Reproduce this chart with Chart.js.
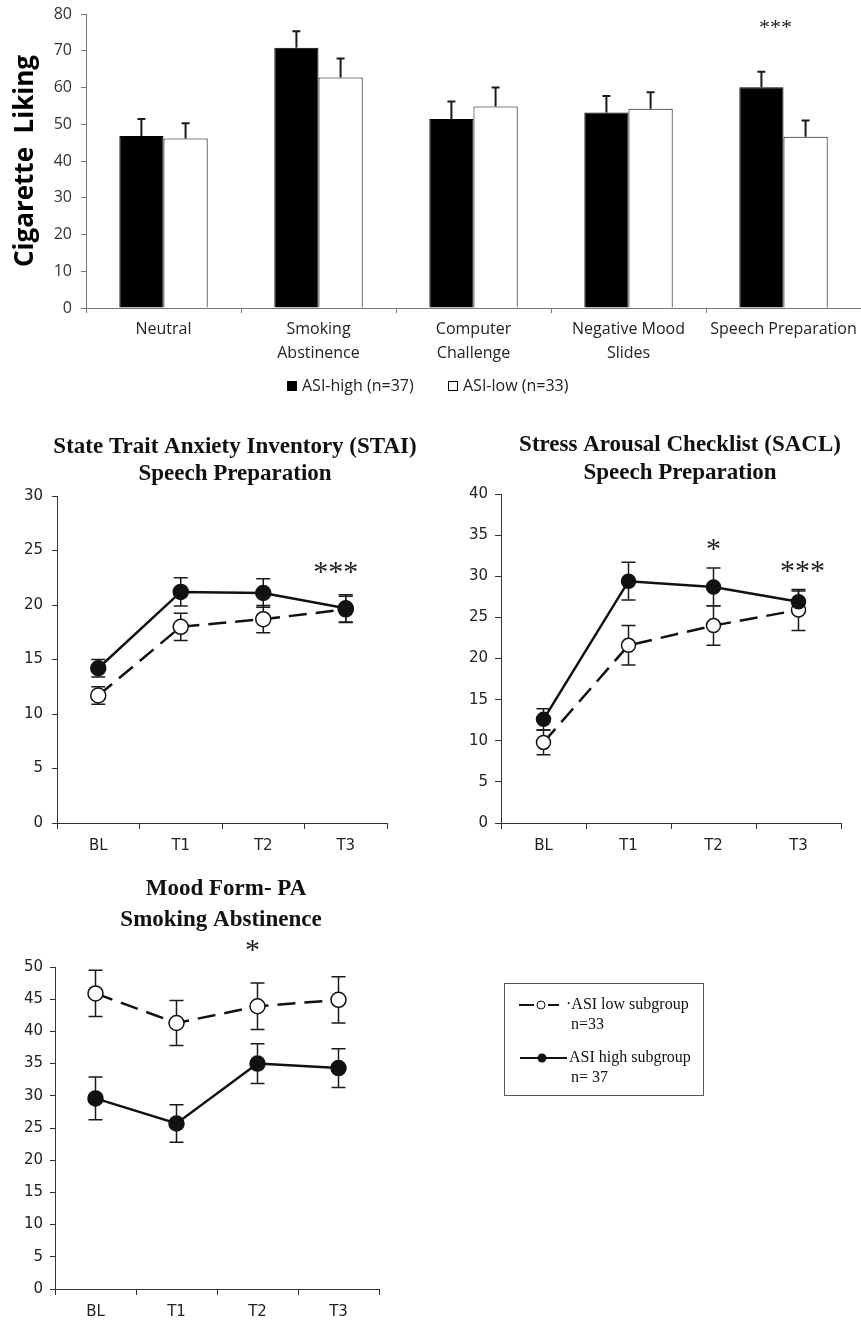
<!DOCTYPE html>
<html><head><meta charset="utf-8">
<script src="https://cdn.jsdelivr.net/npm/chart.js@4.4.1/dist/chart.umd.min.js"></script>
<style>
html,body{margin:0;padding:0;background:#fff;}
#wrap{position:relative;width:861px;height:1323px;overflow:hidden;background:#fff;}
canvas{position:absolute;}
</style></head><body>
<div id="wrap">
<canvas id="bar" width="861" height="410" style="left:0;top:0"></canvas>
<canvas id="stai" width="430" height="480" style="left:0;top:380px"></canvas>
<canvas id="sacl" width="431" height="480" style="left:430px;top:380px"></canvas>
<canvas id="mood" width="861" height="473" style="left:0;top:850px"></canvas>
</div>
<script>
// ---------- DATA ----------
const barCategories = [['Neutral'], ['Smoking', 'Abstinence'], ['Computer', 'Challenge'], ['Negative Mood', 'Slides'], ['Speech Preparation']];
const likingHigh = [46.8, 70.8, 51.4, 53.2, 60.1];
const likingHighErr = [4.6, 4.5, 4.8, 4.5, 4.2];
const likingLow = [46.1, 62.7, 54.8, 54.2, 46.6];
const likingLowErr = [4.2, 5.2, 5.2, 4.5, 4.4];
const barLegendLabels = ['ASI-high (n=37)', 'ASI-low (n=33)'];
const barYTicks = [0, 10, 20, 30, 40, 50, 60, 70, 80];

const timePoints = ['BL', 'T1', 'T2', 'T3'];

const staiHigh = [14.2, 21.2, 21.1, 19.7];
const staiHighErr = [0.8, 1.3, 1.3, 1.25];
const staiLow = [11.7, 18.0, 18.7, 19.6];
const staiLowErr = [0.8, 1.25, 1.25, 1.2];

const saclHigh = [12.6, 29.4, 28.7, 26.9];
const saclHighErr = [1.3, 2.3, 2.3, 1.3];
const saclLow = [9.8, 21.6, 24.0, 25.9];
const saclLowErr = [1.5, 2.4, 2.4, 2.5];

const moodHigh = [29.6, 25.7, 35.0, 34.3];
const moodHighErr = [3.3, 2.9, 3.1, 3.0];
const moodLow = [45.9, 41.3, 43.9, 44.9];
const moodLowErr = [3.6, 3.5, 3.6, 3.6];

const barStars = [{ index: 4, value: 76.2, text: '***' }];
const staiStars = [{ index: 3, value: 22.9, text: '***' }];
const saclStars = [{ index: 2, value: 33.2, text: '*' }, { index: 3, value: 30.5, text: '***' }];
const moodStars = [{ index: 2, value: 52.5, text: '*' }];

// ---------- PLUGINS ----------
function errorBarPlugin(errs, mode, cap, width, hook) {
  const p = { id: 'errbars' };
  p[hook] = function (chart) {
    const ctx = chart.ctx, ys = chart.scales.y;
    ctx.save();
    ctx.strokeStyle = '#1a1a1a';
    ctx.lineWidth = width;
    errs.forEach((err, di) => {
      const meta = chart.getDatasetMeta(di);
      const data = chart.data.datasets[di].data;
      meta.data.forEach((el, j) => {
        const x = el.x;
        const yt = ys.getPixelForValue(data[j] + err[j]);
        const yb = mode === 'up' ? ys.getPixelForValue(data[j]) : ys.getPixelForValue(data[j] - err[j]);
        ctx.beginPath();
        ctx.moveTo(x, yt); ctx.lineTo(x, yb);
        ctx.moveTo(x - cap / 2, yt); ctx.lineTo(x + cap / 2, yt);
        if (mode !== 'up') { ctx.moveTo(x - cap / 2, yb); ctx.lineTo(x + cap / 2, yb); }
        ctx.stroke();
      });
    });
    ctx.restore();
  };
  return p;
}

function textPlugin(titles, stars, starFont, starDx) {
  return {
    id: 'texts',
    afterDraw(chart) {
      const ctx = chart.ctx;
      ctx.save();
      ctx.textAlign = 'center';
      ctx.textBaseline = 'middle';
      titles.forEach(t => {
        ctx.font = t.font; ctx.fillStyle = '#111';
        ctx.fillText(t.text, t.x, t.y);
      });
      stars.forEach((s, i) => {
        ctx.font = starFont; ctx.fillStyle = '#222';
        const x = chart.scales.x.getPixelForValue(s.index) + (starDx[i] || 0);
        const y = chart.scales.y.getPixelForValue(s.value);
        ctx.fillText(s.text, x, y);
      });
      ctx.restore();
    }
  };
}

// legend of the bar chart, drawn from the dataset labels and colours
const barLegendPlugin = {
  id: 'barLegend',
  afterDraw(chart) {
    const ctx = chart.ctx;
    const slots = [287, 448];
    ctx.save();
    ctx.font = '16px "Open Sans", sans-serif';
    ctx.textAlign = 'left'; ctx.textBaseline = 'middle';
    chart.data.datasets.forEach((ds, i) => {
      const x = slots[i], y = 386;
      ctx.fillStyle = ds.backgroundColor; ctx.strokeStyle = ds.borderColor; ctx.lineWidth = 1;
      ctx.fillRect(x + 0.5, y - 4.5, 9, 9); ctx.strokeRect(x + 0.5, y - 4.5, 9, 9);
      ctx.fillStyle = '#222';
      ctx.fillText(ds.label, x + 15, y);
    });
    ctx.restore();
  }
};

const moodLegendPlugin = {
  id: 'moodLegend',
  afterDraw(chart) {
    const ctx = chart.ctx;
    ctx.save();
    ctx.strokeStyle = '#555'; ctx.lineWidth = 1;
    ctx.strokeRect(504.5, 133.5, 199, 112);
    ctx.strokeStyle = '#111'; ctx.lineWidth = 2;
    // low (dashed + open circle)
    ctx.beginPath(); ctx.moveTo(519, 155); ctx.lineTo(534, 155); ctx.moveTo(548, 155); ctx.lineTo(559, 155); ctx.stroke();
    ctx.beginPath(); ctx.arc(541, 155, 4, 0, Math.PI * 2); ctx.fillStyle = '#fff'; ctx.fill(); ctx.lineWidth = 1; ctx.stroke();
    // high (solid + filled circle)
    ctx.lineWidth = 2;
    ctx.beginPath(); ctx.moveTo(520, 208); ctx.lineTo(567, 208); ctx.stroke();
    ctx.beginPath(); ctx.arc(542, 208, 4.5, 0, Math.PI * 2); ctx.fillStyle = '#111'; ctx.fill();
    ctx.fillStyle = '#111';
    ctx.font = '16px "Liberation Serif", "Times New Roman", serif';
    ctx.textAlign = 'left'; ctx.textBaseline = 'middle';
    ctx.fillText('·ASI low subgroup', 566, 155);
    ctx.fillText('n=33', 571, 175);
    ctx.fillText('ASI high subgroup', 569, 208);
    ctx.fillText('n= 37', 571, 228);
    ctx.restore();
  }
};

// ---------- BAR CHART ----------
new Chart(document.getElementById('bar'), {
  type: 'bar',
  data: {
    labels: barCategories,
    datasets: [
      { label: barLegendLabels[0], data: likingHigh, backgroundColor: '#000', borderColor: '#000', borderWidth: 1 },
      { label: barLegendLabels[1], data: likingLow, backgroundColor: '#fff', borderColor: '#000', borderWidth: 1 }
    ]
  },
  options: {
    responsive: false, animation: false, devicePixelRatio: 1,
    layout: { padding: { top: 14, left: 0, right: 0, bottom: 42 } },
    datasets: { bar: { categoryPercentage: 0.57, barPercentage: 1.0 } },
    scales: {
      x: {
        ticks: { font: { family: '"Open Sans", sans-serif', size: 16, lineHeight: 1.5 }, color: '#222', padding: 4, autoSkip: false, maxRotation: 0 },
        grid: { offset: true, drawOnChartArea: false, tickLength: 5, color: '#777' },
        border: { color: '#777', width: 1 },
        afterFit(s) { s.height = 60; s.paddingLeft = 0; s.paddingRight = 0; }
      },
      y: {
        min: barYTicks[0], max: barYTicks[barYTicks.length - 1],
        afterBuildTicks(s) { s.ticks = barYTicks.map(v => ({ value: v })); },
        ticks: { font: { family: '"Open Sans", sans-serif', size: 16 }, color: '#333', padding: 9 },
        grid: { drawOnChartArea: false, tickLength: 5, color: '#777' },
        border: { color: '#777', width: 1 },
        title: { display: true, text: 'Cigarette  Liking', color: '#000', font: { family: '"Open Sans", sans-serif', size: 26, weight: 'bold' }, padding: { top: 10, bottom: 0 } },
        afterFit(s) { s.width = 86; s.paddingTop = 0; s.paddingBottom = 0; }
      }
    },
    plugins: { legend: { display: false }, tooltip: { enabled: false } }
  },
  plugins: [errorBarPlugin([likingHighErr, likingLowErr], 'up', 8, 2, 'afterDatasetsDraw'),
            textPlugin([], barStars, '22px "Liberation Serif", serif', [-8]),
            barLegendPlugin]
});

// ---------- LINE CHARTS ----------
function lineChart(id, cfg) {
  const tickFont = { family: '"DejaVu Sans", sans-serif', size: 15 };
  return new Chart(document.getElementById(id), {
    type: 'line',
    data: {
      labels: timePoints,
      datasets: [
        { label: 'ASI high subgroup n= 37', data: cfg.high, borderColor: '#111', backgroundColor: '#111', borderWidth: 2.5,
          pointRadius: cfg.r, pointBackgroundColor: '#111', pointBorderColor: '#111', pointBorderWidth: 1.5, order: 0, tension: 0 },
        { label: 'ASI low subgroup n=33', data: cfg.low, borderColor: '#111', backgroundColor: '#fff', borderWidth: 2.5, borderDash: [18, 9],
          pointRadius: cfg.r, pointBackgroundColor: '#fff', pointBorderColor: '#111', pointBorderWidth: 1.5, order: 1, tension: 0 }
      ]
    },
    options: {
      responsive: false, animation: false, devicePixelRatio: 1,
      layout: { padding: { top: cfg.top, left: 0, right: cfg.right, bottom: 0 } },
      scales: {
        x: {
          offset: true,
          ticks: { font: tickFont, color: '#222', padding: 8 },
          grid: { offset: true, drawOnChartArea: false, tickLength: 6, color: '#333' },
          border: { color: '#333', width: 1 },
          afterFit(s) { s.height = cfg.xh; s.paddingLeft = 0; s.paddingRight = 0; }
        },
        y: {
          min: 0, max: cfg.max,
          ticks: { stepSize: 5, font: tickFont, color: '#222', padding: cfg.ypad },
          grid: { drawOnChartArea: false, tickLength: cfg.tl, color: '#333' },
          border: { color: '#333', width: 1 },
          afterFit(s) { s.width = cfg.yw; s.paddingTop = 0; s.paddingBottom = 0; }
        }
      },
      plugins: { legend: { display: false }, tooltip: { enabled: false } }
    },
    plugins: [errorBarPlugin([cfg.highErr, cfg.lowErr], 'both', 14, 1.5, 'beforeDatasetsDraw'),
              textPlugin(cfg.titles, cfg.stars, '30px "Liberation Serif", serif', cfg.starDx)].concat(cfg.extra || [])
  });
}

const titleFont = 'bold 23px "Liberation Serif", "Times New Roman", serif';

lineChart('stai', {
  high: staiHigh, highErr: staiHighErr, low: staiLow, lowErr: staiLowErr, r: 7.5,
  max: 30, top: 116, right: 43, xh: 37, yw: 57, ypad: 9, tl: 5,
  titles: [{ text: 'State Trait Anxiety Inventory (STAI)', x: 235, y: 67, font: titleFont },
           { text: 'Speech Preparation', x: 235, y: 94, font: titleFont }],
  stars: staiStars, starDx: [-10]
});

lineChart('sacl', {
  high: saclHigh, highErr: saclHighErr, low: saclLow, lowErr: saclLowErr, r: 7,
  max: 40, top: 114, right: 20, xh: 37, yw: 71, ypad: 7, tl: 6,
  titles: [{ text: 'Stress Arousal Checklist (SACL)', x: 250, y: 65, font: titleFont },
           { text: 'Speech Preparation', x: 250, y: 93, font: titleFont }],
  stars: saclStars, starDx: [0, 4]
});

lineChart('mood', {
  high: moodHigh, highErr: moodHighErr, low: moodLow, lowErr: moodLowErr, r: 7.5,
  max: 50, top: 117, right: 482, xh: 34, yw: 55, ypad: 7, tl: 5,
  titles: [{ text: 'Mood Form- PA', x: 226, y: 39, font: titleFont },
           { text: 'Smoking Abstinence', x: 221, y: 70, font: titleFont }],
  stars: moodStars, starDx: [-5],
  extra: [moodLegendPlugin]
});
</script>
</body></html>
